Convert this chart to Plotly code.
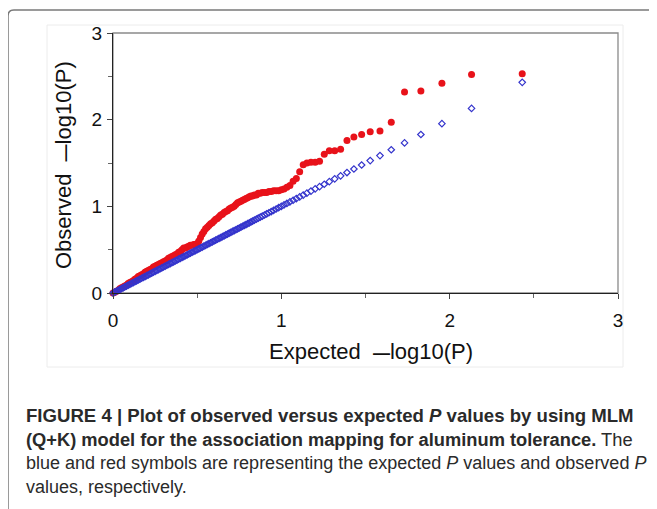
import plotly.graph_objects as go

# ---------------- data ----------------
expected = [
    2.431, 2.130, 1.954, 1.829, 1.732, 1.653, 1.586, 1.528, 1.477, 1.431,
    1.390, 1.352, 1.317, 1.285, 1.255, 1.227, 1.201, 1.176, 1.152, 1.130,
    1.109, 1.089, 1.070, 1.051, 1.033, 1.016, 1.000, 0.984, 0.969, 0.954,
    0.940, 0.926, 0.913, 0.900, 0.887, 0.875, 0.863, 0.852, 0.840, 0.829,
    0.82, 0.81, 0.80, 0.79, 0.78, 0.77, 0.76, 0.75, 0.74, 0.73,
    0.72, 0.71, 0.70, 0.69, 0.68, 0.67, 0.66, 0.65, 0.64, 0.63,
    0.62, 0.61, 0.60, 0.59, 0.58, 0.57, 0.56, 0.55, 0.54, 0.53,
    0.52, 0.51, 0.50, 0.49, 0.48, 0.47, 0.46, 0.45, 0.44, 0.43,
    0.42, 0.41, 0.40, 0.39, 0.38, 0.37, 0.36, 0.35, 0.34, 0.33,
    0.32, 0.31, 0.30, 0.29, 0.28, 0.27, 0.26, 0.25, 0.24, 0.23,
    0.22, 0.21, 0.20, 0.19, 0.18, 0.17, 0.16, 0.15, 0.14, 0.13,
    0.12, 0.11, 0.10, 0.09, 0.08, 0.07, 0.06, 0.05, 0.04, 0.03,
    0.02, 0.01, 0.00,
]
observed = [
    2.53, 2.52, 2.42, 2.33, 2.32, 1.97, 1.87, 1.86, 1.83, 1.80,
    1.76, 1.66, 1.64, 1.64, 1.60, 1.52, 1.51, 1.51, 1.50, 1.48,
    1.40, 1.32, 1.29, 1.24, 1.22, 1.20, 1.19, 1.18, 1.18, 1.18,
    1.17, 1.17, 1.16, 1.16, 1.16, 1.15, 1.15, 1.13, 1.13, 1.12,
    1.12, 1.11, 1.10, 1.09, 1.08, 1.07, 1.06, 1.05, 1.04, 1.02,
    1.00, 0.99, 0.98, 0.97, 0.95, 0.94, 0.93, 0.91, 0.90, 0.88,
    0.86, 0.85, 0.83, 0.81, 0.80, 0.78, 0.76, 0.74, 0.71, 0.68,
    0.64, 0.60, 0.57, 0.56, 0.56, 0.55, 0.55, 0.54, 0.53, 0.52,
    0.52, 0.50, 0.48, 0.47, 0.45, 0.44, 0.43, 0.42, 0.41, 0.40,
    0.38, 0.37, 0.36, 0.35, 0.34, 0.33, 0.32, 0.31, 0.30, 0.28,
    0.27, 0.26, 0.25, 0.24, 0.22, 0.21, 0.20, 0.19, 0.17, 0.16,
    0.14, 0.13, 0.12, 0.11, 0.09, 0.08, 0.07, 0.06, 0.05, 0.03,
    0.02, 0.01, 0.00,
]
tick_vals = [0, 1, 2, 3]
tick_text = ["0", "1", "2", "3"]
DASH = '<b><span style="font-size:17px">\u2014</span></b>'
x_title = "Expected\u00a0\u00a0" + DASH + "log10(P)"
y_title = "Observed\u00a0\u00a0" + DASH + "log10(P)"
caption_lines = [
    "<b>FIGURE 4 | Plot of observed versus expected <i>P</i> values by using MLM</b>",
    "<b>(Q+K) model for the association mapping for aluminum tolerance.</b> The",
    "blue and red symbols are representing the expected <i>P</i> values and observed <i>P</i>",
    "values, respectively.",
]

# ---------------- layout geometry ----------------
# page body has an 8px margin; pixel coordinates below are window coordinates
OFF = 8
W, H = 657 - OFF, 509 - OFF
L, R, T, B = 113, 618, 33, 293
PW, PH = R - L, B - T


def px(x):
    return (x - L) / PW


def py(y):
    return (B - y) / PH


FONT = "Liberation Sans, Arial, Helvetica, sans-serif"

fig = go.Figure()
fig.add_trace(go.Scatter(
    x=expected, y=observed, mode="markers", cliponaxis=False,
    marker=dict(symbol="circle", size=7, color="#e8121a", line=dict(width=0)),
    showlegend=False,
))
fig.add_trace(go.Scatter(
    x=expected, y=expected, mode="markers", cliponaxis=False,
    marker=dict(symbol="diamond-open", size=5, color="#3434cc", line=dict(width=1.2)),
    showlegend=False,
))

axis_common = dict(
    range=[0, 3], tickvals=tick_vals, ticktext=tick_text,
    showgrid=False, zeroline=False, showline=True, linecolor="#222", linewidth=1.3,
    ticks="outside", ticklen=5, tickwidth=1, tickcolor="#444",
    minor=dict(dtick=0.5, ticks="outside", ticklen=4, tickcolor="#666", showgrid=False),
    tickfont=dict(family=FONT, size=19, color="#111"),
    fixedrange=True,
)
fig.update_xaxes(**axis_common, ticklabelstandoff=5)
fig.update_yaxes(**axis_common, ticklabelstandoff=1)

shapes = [
    dict(type="rect", xref="paper", yref="paper", x0=px(47), x1=px(623), y0=py(367), y1=py(25),
         line=dict(color="#ececec", width=1), layer="below"),
    dict(type="rect", xref="paper", yref="paper", x0=0, x1=1, y0=0, y1=1,
         line=dict(color="#8a8a8a", width=1.3), layer="below"),
    dict(type="path", xref="paper", yref="paper",
         path=f"M {px(8)},{py(520)} L {px(8)},{py(16)} Q {px(8)},{py(10)} {px(14)},{py(10)} L {px(700)},{py(10)}",
         line=dict(color="#7a7a7a", width=1.5)),
]

annotations = [
    dict(text=x_title, x=px(371), y=py(351), xref="paper", yref="paper",
         showarrow=False, xanchor="center", yanchor="middle",
         font=dict(family=FONT, size=22, color="#111")),
    dict(text=y_title, x=px(63), y=py(165), xref="paper", yref="paper", textangle=-90,
         showarrow=False, xanchor="center", yanchor="middle",
         font=dict(family=FONT, size=22, color="#111")),
]
cap_y = [415, 439, 463, 487]
cap_size = [18.6, 18.3, 18, 18]
for txt, yy, sz in zip(caption_lines, cap_y, cap_size):
    annotations.append(dict(
        text=txt, x=px(24), y=py(yy), xref="paper", yref="paper",
        showarrow=False, xanchor="left", yanchor="middle", align="left",
        font=dict(family=FONT, size=sz, color="#2a2a2a"),
    ))

fig.update_layout(
    width=W, height=H, autosize=False,
    margin=dict(l=L - OFF, r=W - (R - OFF), t=T - OFF, b=H - (B - OFF), pad=0),
    paper_bgcolor="white", plot_bgcolor="white",
    shapes=shapes, annotations=annotations,
    showlegend=False,
)

fig.write_html("out.html", config={"displayModeBar": False})
